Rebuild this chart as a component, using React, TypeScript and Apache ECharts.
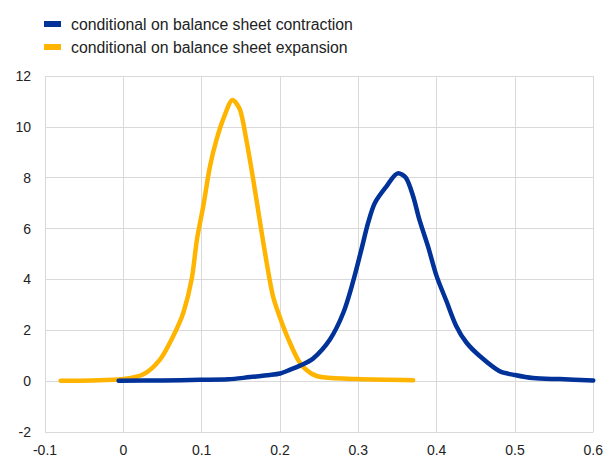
import React, { useEffect, useRef } from "react";
import * as echarts from "echarts";

const contractionX = [-0.006, 0.05, 0.098, 0.134, 0.162, 0.187, 0.2, 0.213, 0.225, 0.242, 0.264, 0.281, 0.293, 0.304, 0.3125, 0.321, 0.336, 0.351, 0.361, 0.37, 0.378, 0.389, 0.4, 0.4125, 0.425, 0.438, 0.455, 0.48, 0.5, 0.523, 0.557, 0.6];
const contractionY = [0.02, 0.03, 0.05, 0.07, 0.16, 0.24, 0.3, 0.45, 0.6, 0.88, 1.65, 2.7, 3.88, 5.18, 6.22, 7.0, 7.66, 8.18, 7.99, 7.27, 6.35, 5.3, 4.13, 3.15, 2.17, 1.52, 0.99, 0.4, 0.24, 0.12, 0.08, 0.03];

const expansionX = [-0.08, -0.04, 0, 0.0255, 0.047, 0.0638, 0.0766, 0.0872, 0.094, 0.102, 0.1106, 0.119, 0.13, 0.1395, 0.149, 0.157, 0.166, 0.174, 0.183, 0.191, 0.2, 0.21, 0.225, 0.24, 0.255, 0.298, 0.37];
const expansionY = [0.02, 0.03, 0.08, 0.27, 0.86, 1.78, 2.69, 4.0, 5.57, 6.87, 8.44, 9.5, 10.5, 11.06, 10.67, 9.5, 7.9, 6.35, 4.66, 3.35, 2.5, 1.7, 0.74, 0.3, 0.15, 0.08, 0.04];

const seriesNames = ["conditional on balance sheet contraction", "conditional on balance sheet expansion"];
const seriesColors = ["#003299", "#FFB400"];

const xTicks = { min: -0.1, max: 0.6, interval: 0.1 };
const yTicks = { min: -2, max: 12, interval: 2 };

export default function App() {
  const ref = useRef<HTMLDivElement>(null);
  useEffect(() => {
    if (!ref.current) return;
    const chart = echarts.init(ref.current, undefined, { renderer: "svg" });
    const font = "'Liberation Sans', Arial, sans-serif";
    const mk = (xs: number[], ys: number[]) => xs.map((x, i) => [x, ys[i]]);
    chart.setOption({
      animation: false,
      textStyle: { fontFamily: font },
      legend: {
        orient: "vertical",
        left: 39,
        top: 11,
        itemWidth: 17,
        itemHeight: 6,
        itemGap: 7,
        icon: "rect",
        textStyle: { fontSize: 15.8, color: "#222", fontFamily: font, padding: [0, 0, 0, 5] },
        data: seriesNames,
      },
      grid: { left: 45, right: 12, top: 76, bottom: 26 },
      xAxis: {
        type: "value",
        min: xTicks.min,
        max: xTicks.max,
        interval: xTicks.interval,
        axisLine: { show: false },
        axisTick: { show: false },
        splitLine: { show: true, lineStyle: { color: "#d9d9d9", width: 1 } },
        axisLabel: {
          fontSize: 14,
          color: "#222",
          margin: 11,
          fontFamily: font,
          formatter: (v: number) => String(parseFloat(v.toFixed(1))),
        },
      },
      yAxis: {
        type: "value",
        min: yTicks.min,
        max: yTicks.max,
        interval: yTicks.interval,
        axisLine: { show: false },
        axisTick: { show: false },
        splitLine: { show: true, lineStyle: { color: "#d9d9d9", width: 1 } },
        axisLabel: { fontSize: 14, color: "#222", margin: 14, fontFamily: font },
      },
      series: [
        {
          name: seriesNames[1],
          type: "line",
          data: mk(expansionX, expansionY),
          smooth: 0.3,
          showSymbol: false,
          color: seriesColors[1],
          lineStyle: { width: 4.5, color: seriesColors[1], cap: "round" },
          z: 2,
        },
        {
          name: seriesNames[0],
          type: "line",
          data: mk(contractionX, contractionY),
          smooth: 0.3,
          showSymbol: false,
          color: seriesColors[0],
          lineStyle: { width: 4.5, color: seriesColors[0], cap: "round" },
          z: 3,
        },
      ],
    });
    return () => chart.dispose();
  }, []);
  return <div ref={ref} style={{ width: 606, height: 458, position: "absolute", left: 0, top: 0 }} />;
}
